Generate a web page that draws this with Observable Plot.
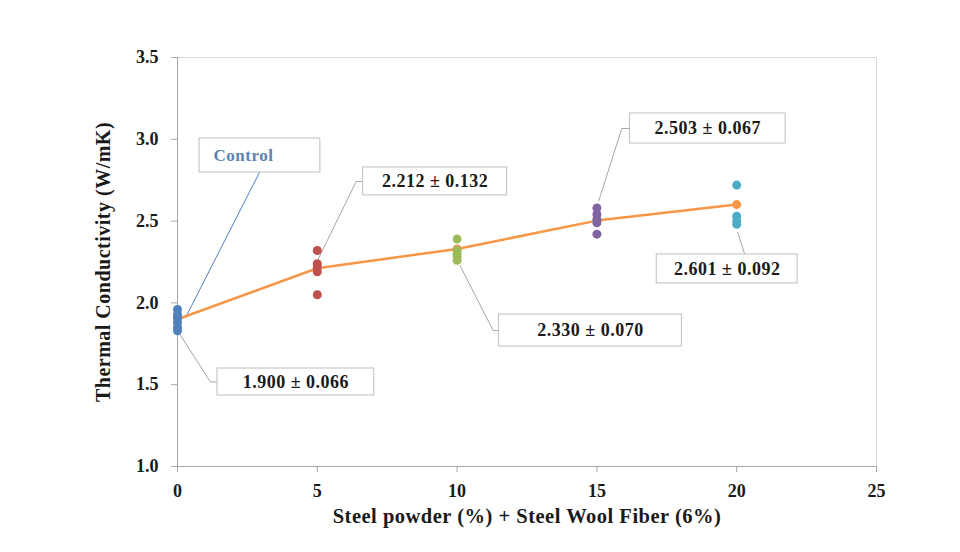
<!DOCTYPE html>
<html><head><meta charset="utf-8">
<script src="https://cdn.jsdelivr.net/npm/d3@7"></script>
<script src="https://cdn.jsdelivr.net/npm/@observablehq/plot@0.6"></script>
<style>body{margin:0;background:#fff}</style>
</head><body><div id="chart"></div>
<script>
// ---- data ----
const groups = [0, 5, 10, 15, 20];
const means = [1.900, 2.212, 2.330, 2.503, 2.601];
const sds = [0.066, 0.132, 0.070, 0.067, 0.092];
const samples0 = [1.96, 1.93, 1.91, 1.88, 1.85, 1.83];
const samples5 = [2.32, 2.24, 2.22, 2.19, 2.05];
const samples10 = [2.39, 2.32, 2.30, 2.28, 2.26];
const samples15 = [2.58, 2.54, 2.51, 2.49, 2.42];
const samples20 = [2.72, 2.53, 2.50, 2.48];
const groupColors = ["#4F81BD", "#C0504D", "#9BBB59", "#8064A2", "#4BACC6"];
const xTicks = [0, 5, 10, 15, 20, 25];
const yTicks = [1.0, 1.5, 2.0, 2.5, 3.0, 3.5];
const xTitle = "Steel powder (%) + Steel Wool Fiber (6%)";
const yTitle = "Thermal Conductivity (W/mK)";

// annotation boxes (data coordinates)
const boxLabels = ["1.900 \u00b1 0.066", "2.212 \u00b1 0.132", "2.330 \u00b1 0.070", "2.503 \u00b1 0.067", "2.601 \u00b1 0.092"];
const boxX1 = [1.43, 6.64, 11.5, 16.18, 17.14];
const boxX2 = [7.04, 11.79, 18.04, 21.75, 22.18];
const boxY1 = [1.434, 2.657, 1.733, 2.974, 2.119];
const boxY2 = [1.599, 2.828, 1.929, 3.158, 2.296];
// leader polylines (data coordinates)
const leaderX = [[0.04, 1.18, 1.43], [5.04, 6.39, 6.64], [10.1, 11.29, 11.5], [15.07, 15.89, 16.18], [20.04, 20.29]];
const leaderY = [[1.82, 1.517, 1.517], [2.27, 2.742, 2.742], [2.23, 1.831, 1.831], [2.626, 3.066, 3.066], [2.43, 2.296]];
const controlLabel = "Control";
const controlBox = {x1: 0.79, x2: 5.11, y1: 2.797, y2: 3.005};
const controlTextPos = [1.29, 2.901];
const controlLeaderX = [2.93, 0.29];
const controlLeaderY = [2.797, 1.911];

// ---- build tables ----
const allSamples = [samples0, samples5, samples10, samples15, samples20];
const points = [];
allSamples.forEach((arr, i) => arr.forEach(v => points.push({x: groups[i], y: v, g: i})));
const meanData = groups.map((g, i) => ({x: g, y: means[i], sd: sds[i]}));
const boxes = boxLabels.map((t, i) => ({t, x1: boxX1[i], x2: boxX2[i], y1: boxY1[i], y2: boxY2[i]}));
const leaders = [];
leaderX.forEach((xs, i) => xs.forEach((x, j) => leaders.push({x, y: leaderY[i][j], z: i})));
const cLeader = controlLeaderX.map((x, j) => ({x, y: controlLeaderY[j]}));

const font = "'Liberation Serif', 'Times New Roman', serif";
const axisGray = "#a6a6a6";

const chart = Plot.plot({
  width: 960,
  height: 552,
  marginLeft: 177,
  marginRight: 84,
  marginTop: 57,
  marginBottom: 86,
  style: {fontFamily: font, fontWeight: "bold", fontSize: "18px", background: "#fff", color: "#000"},
  x: {domain: [0, 25]},
  y: {domain: [1, 3.5]},
  marks: [
    Plot.frame({stroke: "#d9d9d9"}),
    Plot.ruleX([0], {stroke: axisGray}),
    Plot.ruleY([1], {stroke: axisGray}),
    Plot.axisX({ticks: xTicks, tickSize: 6, tickPadding: 12, stroke: axisGray, fill: "#1a1a1a", fontSize: 18, label: null}),
    Plot.axisY({ticks: yTicks, tickSize: 6, tickPadding: 13, tickFormat: d3.format(".1f"), stroke: axisGray, fill: "#1a1a1a", fontSize: 18, label: null}),
    Plot.text([xTitle], {frameAnchor: "bottom", dy: 56, text: d => d, fontSize: 20.5, fill: "#1a1a1a"}),
    Plot.text([yTitle], {frameAnchor: "left", dx: -74, rotate: -90, textAnchor: "middle", text: d => d, fontSize: 20, fill: "#1a1a1a"}),
    // leaders
    Plot.line(cLeader, {x: "x", y: "y", stroke: "#4F81BD", strokeWidth: 1}),
    Plot.line(leaders, {x: "x", y: "y", z: "z", stroke: "#a6a6a6", strokeWidth: 1}),
    // mean line
    Plot.line(meanData, {x: "x", y: "y", stroke: "#F79646", strokeWidth: 2.5}),
    Plot.dot(meanData, {x: "x", y: "y", r: 4.5, fill: "#F79646", stroke: null}),
    Plot.dot(points, {x: "x", y: "y", r: 4.5, fill: d => groupColors[d.g], stroke: null}),
    // boxes
    Plot.rect([controlBox], {x1: "x1", x2: "x2", y1: "y1", y2: "y2", fill: "#fff", stroke: "#bfbfbf"}),
    Plot.text([controlLabel], {x: () => controlTextPos[0], y: () => controlTextPos[1], text: d => d, textAnchor: "start",
      fill: "#5B84B1", fontSize: 17, fontWeight: "bold"}),
    Plot.rect(boxes, {x1: "x1", x2: "x2", y1: "y1", y2: "y2", fill: "#fff", stroke: "#bfbfbf"}),
    Plot.text(boxes, {x: d => (d.x1 + d.x2) / 2, y: d => (d.y1 + d.y2) / 2, text: "t", fill: "#1a1a1a", fontSize: 18, fontWeight: "bold"})
  ]
});
d3.select(chart).selectAll("g[aria-label=text] text").attr("letter-spacing", "0.5px");
document.getElementById("chart").appendChild(chart);
</script>
</body></html>
